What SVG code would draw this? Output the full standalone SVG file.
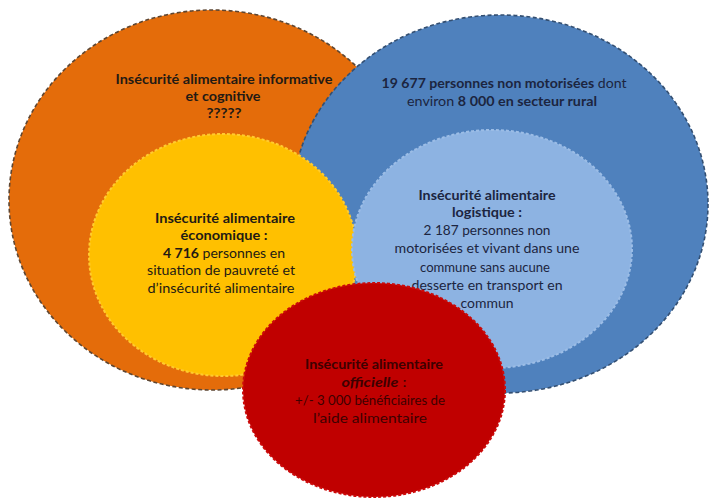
<svg xmlns="http://www.w3.org/2000/svg" width="710" height="499" viewBox="0 0 710 499">
  <style>
    .t { font-family: Lato, "Liberation Sans", Arial, sans-serif; font-size: 14px; text-anchor: middle; }
    .b { font-weight: bold; }
    .dark { fill: #231a14; }
    .navy { fill: #1c2540; }
    .maroon { fill: #3d0000; }
    .outer { stroke-width: 1.6; stroke-dasharray: 4 2.5; }
    .inner { stroke-width: 2; stroke-dasharray: 3 2; }
  </style>
  <rect width="710" height="499" fill="#ffffff"/>

  <!-- Informative / cognitive food insecurity -->
  <g id="informative">
    <ellipse cx="212" cy="200" rx="203" ry="190" fill="#e46c0a" stroke="#5e4632" class="outer"/>
    <text class="t b dark" x="224" y="84" textLength="217" lengthAdjust="spacingAndGlyphs">Insécurité alimentaire informative</text>
    <text class="t b dark" x="223" y="101" textLength="75" lengthAdjust="spacingAndGlyphs">et cognitive</text>
    <text class="t b dark" x="224" y="118" textLength="35" lengthAdjust="spacingAndGlyphs">?????</text>
  </g>

  <!-- Non-motorised population -->
  <g id="non-motorised">
    <ellipse cx="500" cy="204" rx="208" ry="189" fill="#4f81bd" stroke="#334f72" class="outer"/>
    <text class="t navy" x="504" y="88" textLength="245" lengthAdjust="spacingAndGlyphs"><tspan class="b">19 677 personnes non motorisées</tspan> dont</text>
    <text class="t navy" x="502" y="106" textLength="190" lengthAdjust="spacingAndGlyphs">environ <tspan class="b">8 000 en secteur rural</tspan></text>
  </g>

  <!-- Economic food insecurity -->
  <g id="economic">
    <ellipse cx="223" cy="255" rx="134" ry="121" fill="#ffc000" stroke="#ffcb2e" class="inner"/>
    <text class="t b dark" x="225" y="223" textLength="140" lengthAdjust="spacingAndGlyphs">Insécurité alimentaire</text>
    <text class="t b dark" x="224" y="240" textLength="87" lengthAdjust="spacingAndGlyphs">économique :</text>
    <text class="t dark" x="224" y="258" textLength="122" lengthAdjust="spacingAndGlyphs"><tspan class="b">4 716</tspan> personnes en</text>
    <text class="t dark" x="221" y="275" textLength="148" lengthAdjust="spacingAndGlyphs">situation de pauvreté et</text>
    <text class="t dark" x="221" y="293" textLength="147" lengthAdjust="spacingAndGlyphs">d’insécurité alimentaire</text>
  </g>

  <!-- Logistic food insecurity -->
  <g id="logistic">
    <ellipse cx="492" cy="249" rx="140" ry="119" fill="#8db3e2" stroke="#9cbde6" class="inner"/>
    <text class="t b navy" x="487" y="200" textLength="137" lengthAdjust="spacingAndGlyphs">Insécurité alimentaire</text>
    <text class="t b navy" x="487" y="217" textLength="70" lengthAdjust="spacingAndGlyphs">logistique :</text>
    <text class="t navy" x="487" y="235" textLength="127" lengthAdjust="spacingAndGlyphs">2 187 personnes non</text>
    <text class="t navy" x="487" y="253" textLength="185" lengthAdjust="spacingAndGlyphs">motorisées et vivant dans une</text>
    <text class="t navy" x="485" y="272" textLength="130" lengthAdjust="spacingAndGlyphs">commune sans aucune</text>
    <text class="t navy" x="487" y="290" textLength="151" lengthAdjust="spacingAndGlyphs">desserte en transport en</text>
    <text class="t navy" x="487" y="308" textLength="53" lengthAdjust="spacingAndGlyphs">commun</text>
  </g>

  <!-- Official food insecurity -->
  <g id="official">
    <ellipse cx="374" cy="390" rx="131" ry="107" fill="#c00000" stroke="#cc0a0a" class="inner"/>
    <text class="t b maroon" x="374" y="369" textLength="138" lengthAdjust="spacingAndGlyphs">Insécurité alimentaire</text>
    <text class="t maroon" x="374" y="387" textLength="65" lengthAdjust="spacingAndGlyphs"><tspan class="b" font-style="italic">officielle</tspan> :</text>
    <text class="t maroon" x="370" y="405" textLength="150" lengthAdjust="spacingAndGlyphs">+/- 3 000 bénéficiaires de</text>
    <text class="t maroon" x="370" y="423" textLength="114" lengthAdjust="spacingAndGlyphs">l’aide alimentaire</text>
  </g>

  <!-- no connectors in this diagram -->
  <g id="connectors"/>
</svg>
